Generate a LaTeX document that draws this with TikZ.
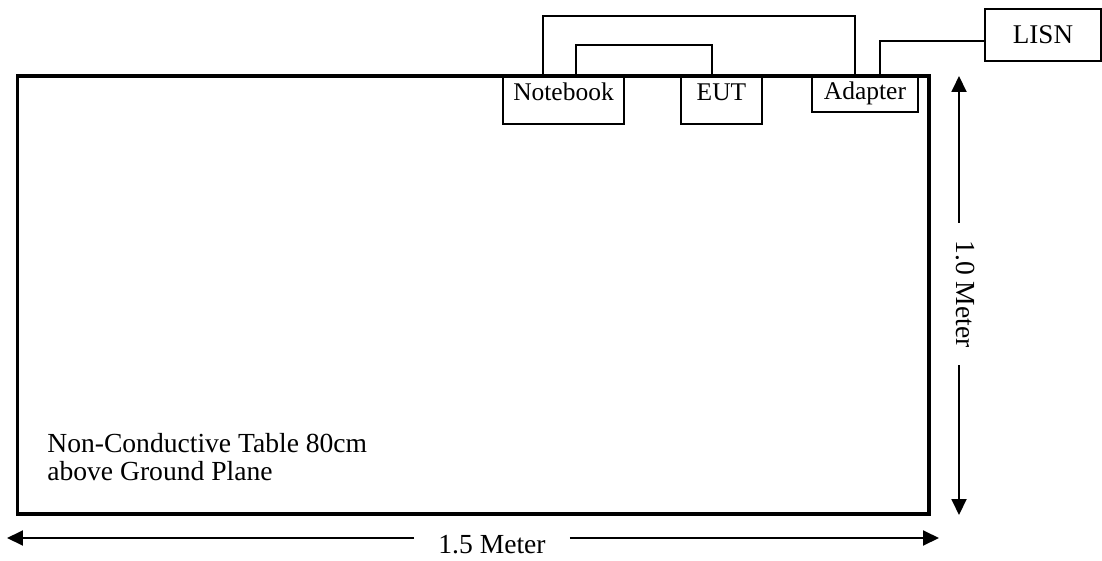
\documentclass[tikz,border=0pt]{standalone}
\usepackage{fontspec}
\setmainfont{Liberation Serif}
\usetikzlibrary{arrows.meta}

\begin{document}
\begin{tikzpicture}[x=0.02cm,y=-0.02cm,
        unit/.style={draw,line width=0.7pt,inner sep=0pt,anchor=base,font=\fontsize{14.5}{16}\selectfont},
        cable/.style={line width=1.1pt},
        dim/.style={line width=1.1pt,-{Triangle[length=0.32cm,width=0.3cm]}},
        dimtext/.style={font=\fontsize{15.7}{15.9}\selectfont},
        tablebox/.style={line width=0.08cm}]
        \useasboundingbox (0,0) rectangle (1102,561);
        % the table
        \draw[tablebox] (17.5,75.5) rectangle (929,514);
        \node[dimtext,anchor=base west,align=left,inner sep=0pt] (tlab) at (47,480) {Non-Conductive Table 80cm\\above Ground Plane};
        % units on the table edge
        \node[unit,minimum width=2.42cm,text height=0.48cm,text depth=0.48cm] (nb) at (563.5,100) {Notebook};
        \node[unit,minimum width=1.62cm,text height=0.48cm,text depth=0.48cm] (eut) at (721.5,100) {EUT};
        \node[unit,minimum width=2.12cm,text height=0.46cm,text depth=0.26cm] (ad) at (865,99) {Adapter};
        \node[unit,minimum width=2.32cm,text height=0.68cm,text depth=0.36cm,font=\fontsize{15.4}{17}\selectfont] (lisn) at (1043,43) {LISN};
        % cables
        \draw[cable] ([xshift=0.82cm]nb.north west) -- ++(0,-59) -| ([xshift=0.88cm]ad.north west);
        \draw[cable] ([xshift=1.48cm]nb.north west) -- ++(0,-30) -| ([xshift=0.64cm]eut.north west);
        \draw[cable] ([xshift=1.38cm]ad.north west) |- ([yshift=-0.12cm]lisn.west);
        % dimensions
        \coordinate (vtop) at (959,76);
        \coordinate (vbot) at (959,515);
        \node[dimtext,rotate=-90,inner xsep=0.35cm] (vlab) at (965,294) {1.0 Meter};
        \draw[dim] (vlab.west -| vtop) -- (vtop);
        \draw[dim] (vlab.east -| vbot) -- (vbot);
        \coordinate (hl) at (7,538);
        \coordinate (hr) at (939,538);
        \node[dimtext,inner xsep=0.48cm] (hlab) at (492,545) {1.5 Meter};
        \draw[dim] (hlab.west |- hl) -- (hl);
        \draw[dim] (hlab.east |- hr) -- (hr);
    \end{tikzpicture}
\end{document}
